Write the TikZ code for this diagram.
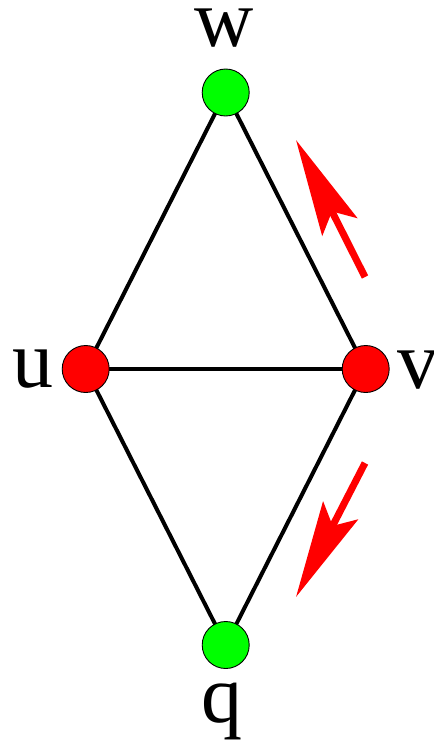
\documentclass[tikz,border=0pt]{standalone}
\usepackage{fontspec}
\setmainfont{Liberation Serif}
\usetikzlibrary{arrows.meta}
\definecolor{vgreen}{RGB}{0,255,0}
\definecolor{vred}{RGB}{255,0,0}
\tikzset{
  vertex/.style={circle, draw=black, line width=0.9pt, fill=#1,
                 minimum size=47pt, inner sep=0pt},
  vertex/.default=vred,
  edge/.style={line width=4pt, black},
  vlbl/.style={font=\fontsize{82}{82}\selectfont, anchor=base, inner sep=0pt},
  move/.style={-{Stealth[length=97pt, width=39pt, inset=17pt]},
               line width=7pt, vred},
}
\begin{document}
\begin{tikzpicture}[x=1pt, y=-1pt]
  \useasboundingbox (0,0) rectangle (434,745);
  %% edges first, vertices on top
  \coordinate (pw) at (225.7,92.5);
  \coordinate (pu) at (85.7,369);
  \coordinate (pv) at (365.7,369);
  \coordinate (pq) at (225.7,645);
  \foreach \a/\b in {pu/pw,pw/pv,pu/pv,pu/pq,pv/pq}
    \draw[edge] (\a) -- (\b);
  \node[vertex=vgreen] (w) at (pw) {};
  \node[vertex]        (u) at (pu) {};
  \node[vertex]        (v) at (pv) {};
  \node[vertex=vgreen] (q) at (pq) {};
  %% labels
  \node[vlbl] (lw) at (224,46)  {w};
  \node[vlbl] (lu) at (33,387)  {u};
  \node[vlbl] (lv) at (418,388) {v};
  \node[vlbl] (lq) at (222,722) {q};
  %% red arrows along v--w and v--q
  \coordinate (up0) at (365,277);
  \coordinate (up1) at (296,140);
  \coordinate (dn0) at (365,463);
  \coordinate (dn1) at (296,597);
  \draw[move] (up0) -- (up1);
  \draw[move] (dn0) -- (dn1);
\end{tikzpicture}
\end{document}
